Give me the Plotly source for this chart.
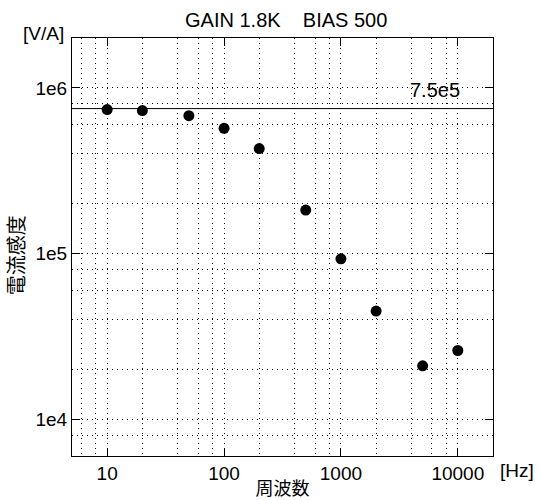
import plotly.graph_objects as go
import numpy as np

freq_hz = [10, 20, 50, 100, 200, 500, 1000, 2000, 5000, 10000]
sensitivity = [7.4e5, 7.3e5, 6.8e5, 5.7e5, 4.3e5, 1.83e5, 9.3e4, 4.5e4, 2.1e4, 2.6e4]
ref_level = 7.5e5
ref_label = "7.5e5"

x_major = [10, 100, 1000, 10000]
x_major_text = ["10", "100", "1000", "10000"]
y_major = [1e4, 1e5, 1e6]
y_major_text = ["1e4", "1e5", "1e6"]
x_minor = [6, 8, 20, 40, 60, 80, 200, 400, 600, 800, 2000, 4000, 6000, 8000]
y_minor = [8e3, 2e4, 4e4, 6e4, 8e4, 2e5, 4e5, 6e5, 8e5]

FONT = "Liberation Sans, Arial, sans-serif"
CJK = "Noto Sans CJK JP"
DOT = "1px,4px"

fig = go.Figure()
fig.add_trace(go.Scatter(x=freq_hz, y=sensitivity, mode="markers",
                         marker=dict(color="black", size=11), showlegend=False))
fig.add_hline(y=ref_level, line=dict(color="black", width=1))
fig.add_annotation(x=np.log10(x_major[-1]), y=np.log10(ref_level), text=ref_label,
                   showarrow=False, xanchor="right", yanchor="bottom", yshift=6, xshift=4,
                   font=dict(size=20, color="black", family=FONT))

axis_common = dict(type="log", showline=True, linecolor="black", linewidth=1,
                   mirror="allticks", ticks="inside", ticklen=8, tickcolor="black",
                   showgrid=True, gridcolor="black", griddash=DOT, gridwidth=1,
                   zeroline=False, automargin=False,
                   tickfont=dict(size=19, color="black", family=FONT))

fig.update_xaxes(range=[np.log10(5), np.log10(20000)], tickmode="array",
                 tickvals=x_major, ticktext=x_major_text,
                 minor=dict(tickmode="array", tickvals=x_minor, showgrid=True,
                            gridcolor="black", griddash=DOT, gridwidth=1,
                            ticks="", ticklen=0),
                 title=dict(text="周波数", font=dict(size=18, color="black", family=CJK),
                            standoff=0),
                 **axis_common)
fig.update_yaxes(range=[np.log10(6000), np.log10(2e6)], tickmode="array",
                 tickvals=y_major, ticktext=y_major_text,
                 minor=dict(tickmode="array", tickvals=y_minor, showgrid=True,
                            gridcolor="black", griddash=DOT, gridwidth=1,
                            ticks="", ticklen=0),
                 **axis_common)

fig.add_annotation(xref="paper", yref="paper", x=0, y=0.48, xshift=-57,
                   text="電流感度", textangle=-90, showarrow=False,
                   xanchor="center", yanchor="middle",
                   font=dict(size=20, color="black", family=CJK))
fig.add_annotation(xref="paper", yref="paper", x=1.0, y=0, xshift=5, yshift=-14,
                   text="[Hz]", showarrow=False, xanchor="left", yanchor="middle",
                   font=dict(size=19, color="black", family=FONT))
fig.add_annotation(xref="paper", yref="paper", x=0, y=1, xshift=-6, yshift=5,
                   text="[V/A]", showarrow=False, xanchor="right", yanchor="middle",
                   font=dict(size=19, color="black", family=FONT))

fig.update_layout(
    width=540, height=500,
    margin=dict(l=72, r=47, t=38, b=44),
    paper_bgcolor="white", plot_bgcolor="white",
    title=dict(text="GAIN 1.8K    BIAS 500", x=0.53, xanchor="center", y=0.96,
               yanchor="middle", font=dict(size=20, color="black", family=FONT)),
)
fig.write_html("out.html", config={"displayModeBar": False},
               post_script="document.body.style.margin='0';document.body.style.padding='0';")
